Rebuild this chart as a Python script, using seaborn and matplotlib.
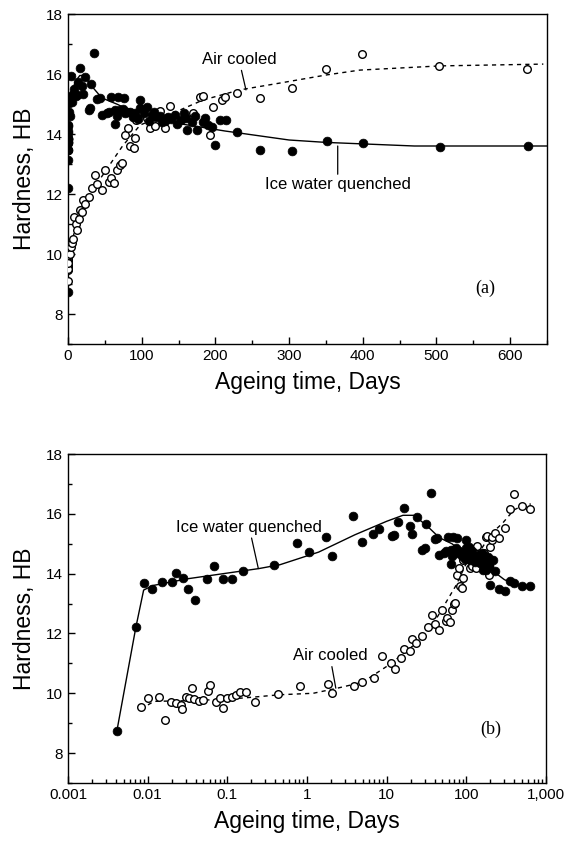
import numpy as np
import pandas as pd
import matplotlib
matplotlib.use("Agg")
import matplotlib.pyplot as plt
import seaborn as sns
from matplotlib.ticker import MultipleLocator, LogLocator, NullFormatter

# ---- data ----
# Ice water quenched: measured points (days, HB)
iwq_days = [0.0041, 0.0071, 0.0089, 0.0112, 0.015, 0.02, 0.023, 0.0275, 0.032, 0.039,
            0.056, 0.069, 0.087, 0.115, 0.158, 0.39, 0.75, 1.07, 1.73, 2.05,
            3.76, 4.9, 6.7, 8.1, 11.5, 12.5, 14, 16.3, 19.4, 21,
            23.7, 28, 30, 31.6, 35.5, 40, 43, 45.7, 52.5, 59,
            63.8, 64, 68, 70.6, 76, 77.3, 84, 88, 91, 98,
            97.7, 107, 113.5, 120, 128, 136, 140, 145, 154, 160,
            161, 175, 183, 190, 199.5, 206, 215, 229, 260, 304,
            351, 400, 505, 624,
            56, 66, 74, 80, 95, 103, 110, 117, 125, 132,
            148, 157, 168, 172, 186, 195]
iwq_hb = [8.73, 12.2, 13.7, 13.47, 13.73, 13.73, 14.03, 13.87, 13.47, 13.13,
          13.83, 14.27, 13.83, 13.83, 14.1, 14.3, 15.03, 14.73, 15.23, 14.6,
          15.93, 15.07, 15.33, 15.5, 15.27, 15.3, 15.73, 16.2, 15.6, 15.33,
          15.9, 14.8, 14.87, 15.67, 16.7, 15.17, 15.19, 14.63, 14.69, 15.24,
          14.8, 14.33, 15.24, 14.8, 15.19, 14.69, 14.74, 14.58, 14.69, 15.13,
          14.86, 14.89, 14.63, 14.58, 14.4, 14.58, 14.5, 14.63, 14.47, 14.55,
          14.13, 14.13, 14.41, 14.3, 13.63, 14.47, 14.47, 14.08, 13.47, 13.43,
          13.77, 13.7, 13.57, 13.6,
          14.75, 14.6, 14.85, 14.75, 14.5, 14.7, 14.45, 14.75, 14.6, 14.45,
          14.35, 14.7, 14.4, 14.6, 14.55, 14.25]

# Air cooled: measured points (days, HB)
ac_days = [0.0082, 0.0102, 0.014, 0.0163, 0.0195, 0.0224, 0.0259, 0.027, 0.03, 0.033,
           0.0355, 0.038, 0.044, 0.05, 0.058, 0.061, 0.073, 0.081, 0.089, 0.1,
           0.115, 0.13, 0.145, 0.17, 0.22, 0.43, 0.82, 1.83, 2.05, 3.9,
           4.9, 6.9, 8.7, 11.2, 12.6, 15, 16.3, 19.4, 21, 23.5,
           28, 32.7, 36.7, 40, 46, 50, 56, 58, 63, 66,
           70, 73, 77, 82, 84, 89, 91, 92, 107, 111,
           118, 125, 132, 138, 169, 179, 183, 193, 197, 209,
           213, 229, 260, 304, 350, 399, 503, 623]
ac_hb = [9.53, 9.83, 9.87, 9.1, 9.7, 9.67, 9.6, 9.47, 9.87, 9.83,
         10.17, 9.8, 9.73, 9.77, 10.07, 10.27, 9.7, 9.83, 9.5, 9.83,
         9.87, 9.93, 10.03, 10.03, 9.7, 9.97, 10.23, 10.3, 10.0, 10.23,
         10.37, 10.5, 11.23, 11.0, 10.8, 11.17, 11.47, 11.4, 11.8, 11.67,
         11.9, 12.2, 12.63, 12.33, 12.13, 12.8, 12.4, 12.53, 12.37, 12.8,
         12.97, 13.03, 13.97, 14.2, 13.6, 13.53, 13.87, 14.47, 14.53, 14.2,
         14.27, 14.77, 14.2, 14.93, 14.7, 15.24, 15.27, 13.97, 14.9, 15.13,
         15.23, 15.37, 15.2, 15.53, 16.17, 16.67, 16.27, 16.17]

# fitted trend curves
iwq_fit_days = [0.0041, 0.0071, 0.0089, 0.0115, 0.032, 0.25, 0.46, 1.4, 4, 10,
                16, 22, 32, 46, 66, 98, 150, 213, 300, 350, 470, 650]
iwq_fit_hb = [8.73, 12.2, 13.45, 13.6, 13.83, 14.17, 14.3, 14.72, 15.3, 15.75,
              15.95, 15.95, 15.6, 15.2, 15.0, 14.62, 14.35, 14.1, 13.8, 13.72, 13.6, 13.6]

ac_fit_days = [0.0082, 0.012, 0.03, 0.1, 0.21, 0.45, 1.2, 2.4, 5, 11,
               21, 38, 74, 98, 125, 152, 183, 233, 288, 351, 396, 505, 645]
ac_fit_hb = [9.47, 9.73, 9.75, 9.8, 9.87, 9.95, 10.0, 10.17, 10.37, 10.97,
             11.57, 12.3, 13.6, 14.3, 14.57, 14.8, 15.13, 15.47, 15.7, 15.97, 16.13, 16.27, 16.33]

log_ticks = [0.001, 0.01, 0.1, 1, 10, 100, 1000]
log_tick_labels = ["0.001", "0.01", "0.1", "1", "10", "100", "1,000"]

# ---- dataframes ----
iwq = pd.DataFrame({"days": iwq_days, "hb": iwq_hb})
ac = pd.DataFrame({"days": ac_days, "hb": ac_hb})
iwq_fit = pd.DataFrame({"days": iwq_fit_days, "hb": iwq_fit_hb})
ac_fit = pd.DataFrame({"days": ac_fit_days, "hb": ac_fit_hb})

sns.set_style("ticks", {"axes.edgecolor": "black", "xtick.color": "black",
                        "ytick.color": "black", "text.color": "black",
                        "axes.labelcolor": "black"})
plt.rcParams["font.family"] = ["Liberation Sans", "DejaVu Sans"]

W, H = 567, 841
fig = plt.figure(figsize=(W / 100, H / 100), dpi=100)
ax_a = fig.add_axes([68 / W, 1 - 344 / H, (547 - 68) / W, (344 - 14) / H])
ax_b = fig.add_axes([68 / W, 1 - 783 / H, (546 - 68) / W, (783 - 454) / H])


def draw(ax):
    sns.lineplot(data=ac_fit, x="days", y="hb", ax=ax, color="black", lw=1,
                 linestyle=(0, (3, 3)), estimator=None, sort=False)
    sns.lineplot(data=iwq_fit, x="days", y="hb", ax=ax, color="black", lw=1,
                 estimator=None, sort=False)
    sns.scatterplot(data=ac, x="days", y="hb", ax=ax, marker="o", s=30,
                    facecolor="white", edgecolor="black", linewidth=1, zorder=3)
    sns.scatterplot(data=iwq, x="days", y="hb", ax=ax, marker="o", s=40,
                    color="black", edgecolor="black", linewidth=0.5, zorder=4)
    ax.set_ylim(7, 18)
    ax.yaxis.set_minor_locator(MultipleLocator(1))
    ax.set_yticks([8, 10, 12, 14, 16, 18])
    ax.tick_params(which="both", direction="in", labelsize=11, width=1,
                   colors="black")
    ax.tick_params(which="major", length=5)
    ax.tick_params(which="minor", length=3)
    for sp in ax.spines.values():
        sp.set_linewidth(1)
        sp.set_color("black")
        sp.set_visible(True)
    ax.set_ylabel("Hardness, HB", fontsize=16.5, labelpad=7, color="black")
    ax.set_xlabel("Ageing time, Days", fontsize=16.5, labelpad=6, color="black")


draw(ax_a)
ax_a.set_xlim(0, 650)
ax_a.xaxis.set_major_locator(MultipleLocator(100))
ax_a.xaxis.set_minor_locator(MultipleLocator(50))

draw(ax_b)
ax_b.set_xscale("log")
ax_b.set_xlim(0.001, 1000)
ax_b.set_xticks(log_ticks)
ax_b.set_xticklabels(log_tick_labels)
ax_b.xaxis.set_minor_locator(LogLocator(base=10, subs=np.arange(2, 10)))
ax_b.xaxis.set_minor_formatter(NullFormatter())

# annotations
leader = dict(arrowstyle="-", color="black", lw=0.9, shrinkA=0, shrinkB=0)
ax_a.annotate("Air cooled", xy=(241.5, 15.47), xytext=(232, 16.23), fontsize=12,
              ha="center", va="bottom", arrowprops=leader)
ax_a.annotate("Ice water quenched", xy=(366, 13.6), xytext=(366, 12.55), fontsize=12,
              ha="center", va="top", arrowprops=leader)
ax_a.text(566, 8.87, "(a)", fontsize=13, family="Liberation Serif", ha="center", va="center")

ax_b.annotate("Ice water quenched", xy=(0.245, 14.17), xytext=(0.188, 15.3), fontsize=12,
              ha="center", va="bottom", arrowprops=leader)
ax_b.annotate("Air cooled", xy=(2.3, 10.17), xytext=(1.94, 11.0), fontsize=12,
              ha="center", va="bottom", arrowprops=leader)
ax_b.text(205, 8.8, "(b)", fontsize=13, family="Liberation Serif", ha="center", va="center")

fig.savefig("out.png", dpi=100)
